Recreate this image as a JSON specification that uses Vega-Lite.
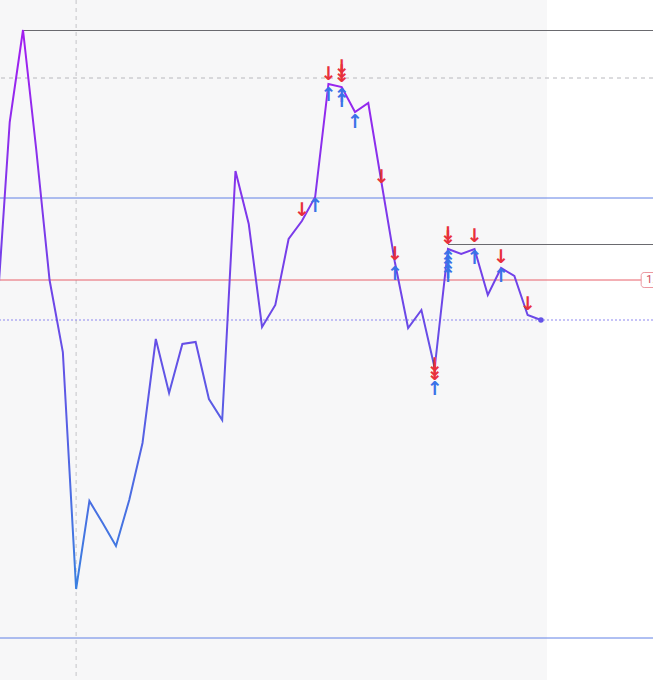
{
  "$schema": "https://vega.github.io/schema/vega-lite/v6.json",
  "width": 653,
  "height": 680,
  "autosize": {"type": "none"},
  "padding": 0,
  "background": "#ffffff",
  "config": {"view": {"stroke": null}},
  "datasets": {
    "series": [
      {"i": 0, "v": 360}, {"i": 1, "v": 558}, {"i": 2, "v": 650}, {"i": 3, "v": 530},
      {"i": 4, "v": 400}, {"i": 5, "v": 328}, {"i": 6, "v": 91}, {"i": 7, "v": 179},
      {"i": 8, "v": 157}, {"i": 9, "v": 134}, {"i": 10, "v": 180}, {"i": 11, "v": 237},
      {"i": 12, "v": 341}, {"i": 13, "v": 287}, {"i": 14, "v": 336}, {"i": 15, "v": 338},
      {"i": 16, "v": 281}, {"i": 17, "v": 260}, {"i": 18, "v": 509}, {"i": 19, "v": 456},
      {"i": 20, "v": 353}, {"i": 21, "v": 375}, {"i": 22, "v": 441}, {"i": 23, "v": 459},
      {"i": 24, "v": 483}, {"i": 25, "v": 596}, {"i": 26, "v": 593}, {"i": 27, "v": 568},
      {"i": 28, "v": 577}, {"i": 29, "v": 497}, {"i": 30, "v": 418}, {"i": 31, "v": 352},
      {"i": 32, "v": 370}, {"i": 33, "v": 312}, {"i": 34, "v": 431}, {"i": 35, "v": 426},
      {"i": 36, "v": 431}, {"i": 37, "v": 385}, {"i": 38, "v": 412}, {"i": 39, "v": 404},
      {"i": 40, "v": 365}, {"i": 41, "v": 360}
    ],
    "signals": [
      {"i": 23, "side": "sell", "k": 0, "p": 470},
      {"i": 25, "side": "sell", "k": 0, "p": 606},
      {"i": 26, "side": "sell", "k": 0, "p": 604},
      {"i": 26, "side": "sell", "k": 1, "p": 604},
      {"i": 26, "side": "sell", "k": 2, "p": 604},
      {"i": 29, "side": "sell", "k": 0, "p": 503},
      {"i": 30, "side": "sell", "k": 0, "p": 426},
      {"i": 33, "side": "sell", "k": 0, "p": 306},
      {"i": 33, "side": "sell", "k": 1, "p": 306},
      {"i": 33, "side": "sell", "k": 2, "p": 306},
      {"i": 34, "side": "sell", "k": 0, "p": 442},
      {"i": 34, "side": "sell", "k": 1, "p": 442},
      {"i": 36, "side": "sell", "k": 0, "p": 444},
      {"i": 38, "side": "sell", "k": 0, "p": 423},
      {"i": 40, "side": "sell", "k": 0, "p": 376},
      {"i": 24, "side": "buy", "k": 0, "p": 474},
      {"i": 25, "side": "buy", "k": 0, "p": 585},
      {"i": 26, "side": "buy", "k": 0, "p": 584},
      {"i": 26, "side": "buy", "k": 1, "p": 584},
      {"i": 27, "side": "buy", "k": 0, "p": 558},
      {"i": 30, "side": "buy", "k": 0, "p": 406},
      {"i": 33, "side": "buy", "k": 0, "p": 291},
      {"i": 34, "side": "buy", "k": 0, "p": 422},
      {"i": 34, "side": "buy", "k": 1, "p": 422},
      {"i": 34, "side": "buy", "k": 2, "p": 422},
      {"i": 34, "side": "buy", "k": 3, "p": 422},
      {"i": 34, "side": "buy", "k": 4, "p": 422},
      {"i": 36, "side": "buy", "k": 0, "p": 422},
      {"i": 38, "side": "buy", "k": 0, "p": 404}
    ],
    "levels": [
      {"name": "resistance", "v": 602},
      {"name": "upper", "v": 482},
      {"name": "pivot", "v": 400},
      {"name": "last", "v": 360},
      {"name": "lower", "v": 42}
    ],
    "rays": [
      {"from": 2, "v": 650},
      {"from": 34, "v": 436}
    ],
    "marker": [{"i": 6}],
    "label": [{"v": 400, "text": "1.2500"}]
  },
  "layer": [
    {
      "data": {"values": [{"a": 0.268, "b": 41.46}]},
      "mark": {"type": "rect", "fill": "#f7f7f8"},
      "encoding": {
        "x": {"field": "a", "type": "quantitative", "scale": {"domain": [0.268, 49.44], "nice": false, "zero": false}, "axis": null},
        "x2": {"field": "b"}
      }
    },
    {
      "data": {"name": "marker"},
      "mark": {"type": "rule", "stroke": "#c4c4c8", "strokeDash": [4, 4], "strokeWidth": 1},
      "encoding": {
        "x": {"field": "i", "type": "quantitative", "axis": null}
      }
    },
    {
      "data": {"name": "levels"},
      "mark": {"type": "rule", "strokeWidth": 1},
      "encoding": {
        "y": {"field": "v", "type": "quantitative", "scale": {"domain": [0, 680], "nice": false, "zero": false}, "axis": null},
        "color": {"field": "name", "type": "nominal", "legend": null,
          "scale": {"domain": ["resistance", "upper", "pivot", "last", "lower"],
                    "range": ["#b8b8bd", "#6080e6", "#e8606b", "#8d87f0", "#6080e6"]}},
        "strokeDash": {"field": "name", "type": "nominal", "legend": null,
          "scale": {"domain": ["resistance", "upper", "pivot", "last", "lower"],
                    "range": [[4, 4], [1, 0], [1, 0], [2, 2], [1, 0]]}}
      }
    },
    {
      "data": {"name": "rays"},
      "mark": {"type": "rule", "stroke": "#6a6a6f", "strokeWidth": 1, "yOffset": 0.5},
      "encoding": {
        "x": {"field": "from", "type": "quantitative", "axis": null},
        "x2": {"datum": 50},
        "y": {"field": "v", "type": "quantitative", "axis": null}
      }
    },
    {
      "data": {"name": "series"},
      "mark": {"type": "line", "clip": true, "strokeWidth": 2, "strokeJoin": "miter",
        "stroke": {"gradient": "linear", "x1": 0, "y1": 0, "x2": 0, "y2": 1,
          "stops": [
            {"offset": 0, "color": "#a21ef0"},
            {"offset": 0.45, "color": "#7142e8"},
            {"offset": 1, "color": "#3a80e0"}
          ]}},
      "encoding": {
        "x": {"field": "i", "type": "quantitative", "axis": null},
        "y": {"field": "v", "type": "quantitative", "axis": null}
      }
    },
    {
      "data": {"name": "series"},
      "transform": [{"filter": "datum.i == 41"}],
      "mark": {"type": "circle", "size": 30, "color": "#6452e8", "opacity": 1},
      "encoding": {
        "x": {"field": "i", "type": "quantitative", "axis": null},
        "y": {"field": "v", "type": "quantitative", "axis": null}
      }
    },
    {
      "data": {"name": "signals"},
      "transform": [{"filter": "datum.side == 'sell'"}],
      "mark": {"type": "text", "text": "↓", "font": "DejaVu Sans", "fontWeight": "bold", "fontSize": 19, "color": "#e8303c", "baseline": "middle", "align": "center", "dy": {"expr": "-4.5 * datum.k"}},
      "encoding": {
        "x": {"field": "i", "type": "quantitative", "axis": null},
        "y": {"field": "p", "type": "quantitative", "axis": null}
      }
    },
    {
      "data": {"name": "signals"},
      "transform": [{"filter": "datum.side == 'buy'"}],
      "mark": {"type": "text", "text": "↑", "font": "DejaVu Sans", "fontWeight": "bold", "fontSize": 19, "color": "#3a72e8", "baseline": "middle", "align": "center", "dy": {"expr": "4.5 * datum.k"}},
      "encoding": {
        "x": {"field": "i", "type": "quantitative", "axis": null},
        "y": {"field": "p", "type": "quantitative", "axis": null}
      }
    },
    {
      "data": {"name": "label"},
      "mark": {"type": "rect", "fill": "#ffffff", "stroke": "#ec98a0", "strokeWidth": 1, "cornerRadius": 3, "yOffset": -7.5, "y2Offset": 7.5},
      "encoding": {
        "x": {"datum": 48.55, "type": "quantitative"},
        "x2": {"datum": 51},
        "y": {"field": "v", "type": "quantitative", "axis": null},
        "y2": {"field": "v"}
      }
    },
    {
      "data": {"name": "label"},
      "mark": {"type": "text", "font": "Roboto", "fontSize": 11, "color": "#d04a5a", "align": "left", "baseline": "middle", "dx": 5},
      "encoding": {
        "x": {"datum": 48.55, "type": "quantitative"},
        "y": {"field": "v", "type": "quantitative", "axis": null},
        "text": {"field": "text"}
      }
    }
  ]
}
